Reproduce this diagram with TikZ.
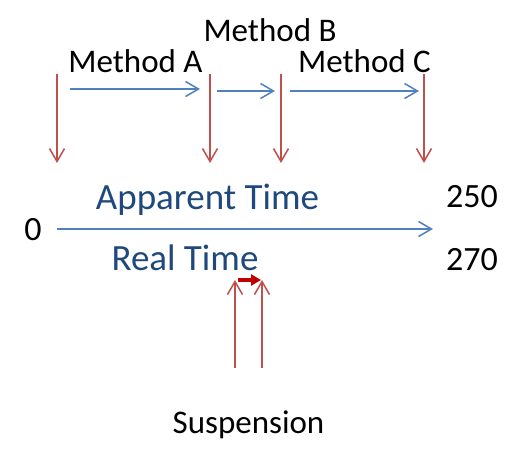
\documentclass[tikz,border=0pt]{standalone}
\usepackage{fontspec}
\setmainfont{Carlito}
\usetikzlibrary{arrows.meta, positioning}
\definecolor{markred}{HTML}{C0504D}
\definecolor{flowblue}{HTML}{4F81BD}
\definecolor{textblue}{HTML}{1F497D}
\definecolor{shiftred}{HTML}{C00000}

\begin{document}
\begin{tikzpicture}[x=1pt, y=-1pt]
 \tikzset{mark line/.style={draw=markred, line width=1.5pt,
        -{Straight Barb[length=13pt,width=15pt,line width=1.5pt]}}}
 \tikzset{flow line/.style={draw=flowblue, line width=1.5pt,
        -{Straight Barb[length=13pt,width=15pt,line width=1.5pt]}}}
 \tikzset{shift line/.style={draw=shiftred, line width=3.5pt,
        -{Triangle[length=10pt,width=11pt]}}}
 \tikzset{label text/.style={inner sep=0pt, anchor=base, font=\fontsize{33}{38}\selectfont}}
 \tikzset{time text/.style={label text, text=textblue, font=\fontsize{37}{42}\selectfont}}
 \tikzset{num text/.style={label text, font=\fontsize{34}{40}\selectfont}}
 \useasboundingbox (0,0) rectangle (531,461);

 % markers at method boundaries
 \foreach \name/\xpos in {mk0/57, mk1/210, mk2/281, mk3/424} {
   \coordinate (\name-top) at (\xpos,74);
   \coordinate (\name-tip) at (\xpos,163);
   \draw[mark line] (\name-top) -- (\name-tip);
 }

 % methods
 \node[label text] (methA) at (135.5,72) {Method~A};
 \node[label text] (methB) at (270,41) {Method~B};
 \node[label text] (methC) at (364.5,72) {Method~C};
 \coordinate (flowA-s) at (70,89);  \coordinate (flowA-e) at (200,89);
 \coordinate (flowB-s) at (217,91); \coordinate (flowB-e) at (275,91);
 \coordinate (flowC-s) at (290,91); \coordinate (flowC-e) at (419,91);
 \draw[flow line] (flowA-s) -- (flowA-e);
 \draw[flow line] (flowB-s) -- (flowB-e);
 \draw[flow line] (flowC-s) -- (flowC-e);

 % time axis
 \node[num text] (zero) at (33,240) {0};
 \coordinate (axis-s) at (57,229);
 \coordinate (axis-e) at (433,229);
 \draw[flow line] (axis-s) -- (axis-e);
 \node[time text] (apparent) at (207.5,209) {Apparent Time};
 \node[time text] (real) at (185,270) {Real Time};
 \node[num text] (endA) at (472,207) {250};
 \node[num text] (endR) at (472,270) {270};

 % suspension
 \foreach \name/\xpos in {sp1/235, sp2/262} {
   \coordinate (\name-foot) at (\xpos,368);
   \coordinate (\name-tip) at (\xpos,280);
   \draw[mark line] (\name-foot) -- (\name-tip);
 }
 \draw[shift line] ([xshift=3pt]sp1-tip) -- ([xshift=-1pt]sp2-tip);
 \node[label text] (susp) at (248.5,433) {Suspension};
\end{tikzpicture}
\end{document}
